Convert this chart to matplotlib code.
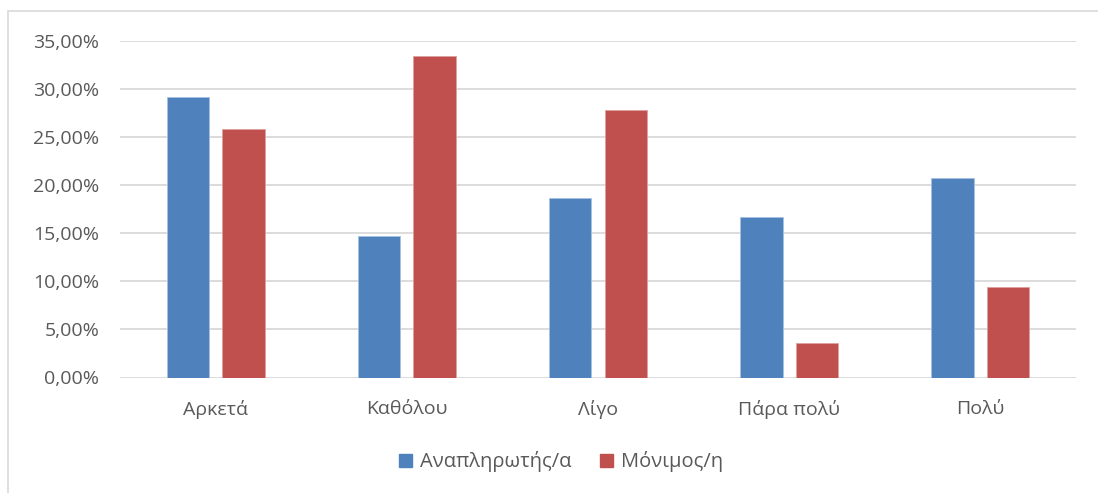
import numpy as np
import matplotlib
matplotlib.use('Agg')
import matplotlib.pyplot as plt
from matplotlib.patches import Rectangle, Patch

# survey answers, share per staff type (%)
categories = ['Αρκετά', 'Καθόλου', 'Λίγο', 'Πάρα πολύ', 'Πολύ']
anaplirotes = [29.17, 14.72, 18.70, 16.73, 20.72]
monimoi = [25.82, 33.40, 27.82, 3.62, 9.38]
series_names = ['Αναπληρωτής/α', 'Μόνιμος/η']
yticks = [0, 5, 10, 15, 20, 25, 30, 35]

blue = '#4F81BD'
red = '#C0504D'
grey_txt = '#595959'
grid_col = '#D9D9D9'

plt.rcParams['font.family'] = ['Open Sans', 'DejaVu Sans']

fig = plt.figure(figsize=(10.98, 4.93), dpi=100)
# chart frame
fig.patches.append(Rectangle((8 / 1098, -0.1), 1.2, 1 - 11 / 493 + 0.1,
                             transform=fig.transFigure, fill=False,
                             edgecolor=grid_col, linewidth=1.2))

ax = fig.add_axes([120 / 1098, 1 - 377.5 / 493, 956 / 1098, (377.5 - 41) / 493])

x = np.arange(len(categories))
w = 0.222
off = 0.145
ax.bar(x - off, anaplirotes, w, color=blue, edgecolor='#A7C1E3', linewidth=0.6, zorder=3)
ax.bar(x + off, monimoi, w, color=red, edgecolor='#E0A09E', linewidth=0.6, zorder=3)

ax.set_xlim(-0.5, len(categories) - 0.5)
ax.set_ylim(0, 35)
ax.set_yticks(yticks)
ax.set_yticklabels([f'{v:.2f}%'.replace('.', ',') for v in yticks])
ax.set_xticks(x)
ax.set_xticklabels(categories)
ax.tick_params(axis='both', length=0, colors=grey_txt)
ax.tick_params(axis='y', pad=15, labelsize=14)
ax.tick_params(axis='x', pad=16, labelsize=14)

ax.yaxis.grid(True, color=grid_col, linewidth=1.3, zorder=0)
for s in ax.spines.values():
    s.set_visible(False)

handles = [Patch(color=blue), Patch(color=red)]
fig.legend(handles, series_names, loc='center', bbox_to_anchor=(561 / 1098, 1 - 462 / 493),
           ncol=2, frameon=False, fontsize=14.5, labelcolor=grey_txt,
           handlelength=0.65, handleheight=0.65, handletextpad=0.4, columnspacing=1.4)

fig.savefig('out.png', dpi=100)
